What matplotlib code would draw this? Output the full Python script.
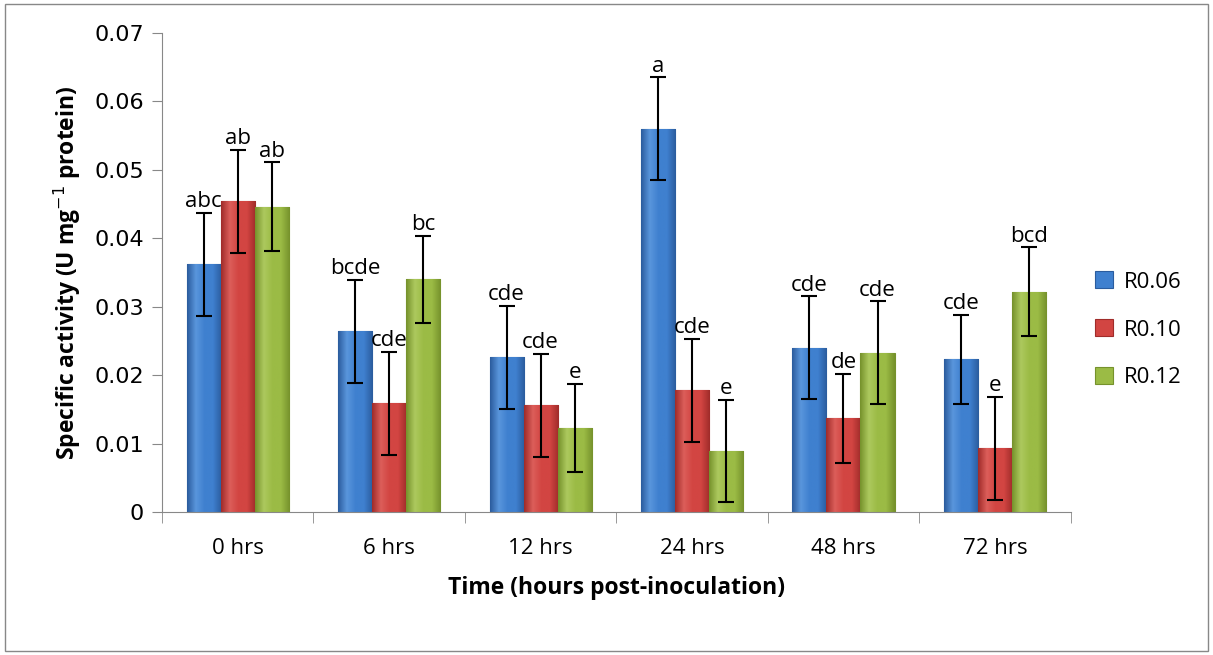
import numpy as np
import matplotlib.pyplot as plt
from matplotlib.patches import Rectangle
from matplotlib.colors import LinearSegmentedColormap

# data
times = ['0 hrs', '6 hrs', '12 hrs', '24 hrs', '48 hrs', '72 hrs']
series = ['R0.06', 'R0.10', 'R0.12']
r006 = [0.0362, 0.0264, 0.0226, 0.0560, 0.0240, 0.0223]
r010 = [0.0454, 0.0159, 0.0156, 0.0178, 0.0137, 0.0093]
r012 = [0.0446, 0.0340, 0.0123, 0.0089, 0.0233, 0.0322]
err006 = [0.0075, 0.0075, 0.0075, 0.0075, 0.0075, 0.0065]
err010 = [0.0075, 0.0075, 0.0075, 0.0075, 0.0065, 0.0075]
err012 = [0.0065, 0.0064, 0.0064, 0.0075, 0.0075, 0.0065]
lab006 = ['abc', 'bcde', 'cde', 'a', 'cde', 'cde']
lab010 = ['ab', 'cde', 'cde', 'cde', 'de', 'e']
lab012 = ['ab', 'bc', 'e', 'e', 'cde', 'bcd']

values = [r006, r010, r012]
errors = [err006, err010, err012]
letters = [lab006, lab010, lab012]
# (dark edge, mid, light) for the shaded bars
shades = [('#2b5c9e', '#3f80cf', '#5a96dc'),
          ('#a02c2a', '#d24542', '#dc5e5a'),
          ('#76922c', '#9bbb45', '#adc95e')]
fam = ['Open Sans', 'DejaVu Sans']

fig = plt.figure(figsize=(12.13, 6.55), dpi=100)
ax = fig.add_axes([0.1336, 0.2183, 0.7490, 0.7313])

x = np.arange(len(times))
w = 0.225
for i in range(3):
    pos = x + (i - 1) * w
    dark, mid, light = shades[i]
    bars = ax.bar(pos, values[i], w, color=mid, edgecolor=dark, linewidth=0.8,
                  label=series[i], zorder=2)
    cmap = LinearSegmentedColormap.from_list('b%d' % i, [dark, light, mid, mid, dark])
    grad = np.linspace(0, 1, 64).reshape(1, -1)
    for b in bars:
        im = ax.imshow(grad, cmap=cmap, aspect='auto', zorder=2.5,
                       extent=[b.get_x(), b.get_x() + b.get_width(), 0, b.get_height()])
        im.set_clip_path(b)
    ax.errorbar(pos, values[i], yerr=errors[i], fmt='none', ecolor='black',
                elinewidth=1.5, capsize=6, capthick=1.5, zorder=3)
    for p, v, e, t in zip(pos, values[i], errors[i], letters[i]):
        ax.text(p, v + e + 0.0001, t, ha='center', va='bottom', fontsize=16,
                family=fam, zorder=4)

ax.set_xlim(-0.5, len(times) - 0.5)
ax.set_ylim(0, 0.07)
ax.set_yticks(np.arange(0, 0.0701, 0.01))
ax.set_yticklabels(['0', '0.01', '0.02', '0.03', '0.04', '0.05', '0.06', '0.07'],
                   fontsize=16)
ax.set_xticks(x)
ax.set_xticklabels(times, fontsize=16, family=fam)
ax.set_xticks(np.arange(-0.5, len(times)), minor=True)
ax.tick_params(axis='x', which='major', length=0, pad=19)
ax.tick_params(axis='x', which='minor', length=8, color='#888888')
ax.tick_params(axis='y', length=7, color='#888888', pad=6)
for s in ['top', 'right']:
    ax.spines[s].set_visible(False)
for s in ['left', 'bottom']:
    ax.spines[s].set_color('#888888')

ax.set_xlabel('Time (hours post-inoculation)', fontsize=16.5, fontweight='bold',
              family=fam, labelpad=12)
ax.set_ylabel('Specific activity (U mg$^{-1}$ protein)', fontsize=16.5, fontweight='bold',
              family=fam, labelpad=8)

ax.legend(loc='center left', bbox_to_anchor=(1.005, 0.38), frameon=False,
          handlelength=0.8, handleheight=0.8, labelspacing=1.2,
          handletextpad=0.5, prop={'family': fam, 'size': 16})

fig.patches.append(Rectangle((0.004, 0.006), 0.992, 0.988, transform=fig.transFigure,
                             fill=False, edgecolor='#888888', linewidth=1))

fig.savefig('out.png', dpi=100)
